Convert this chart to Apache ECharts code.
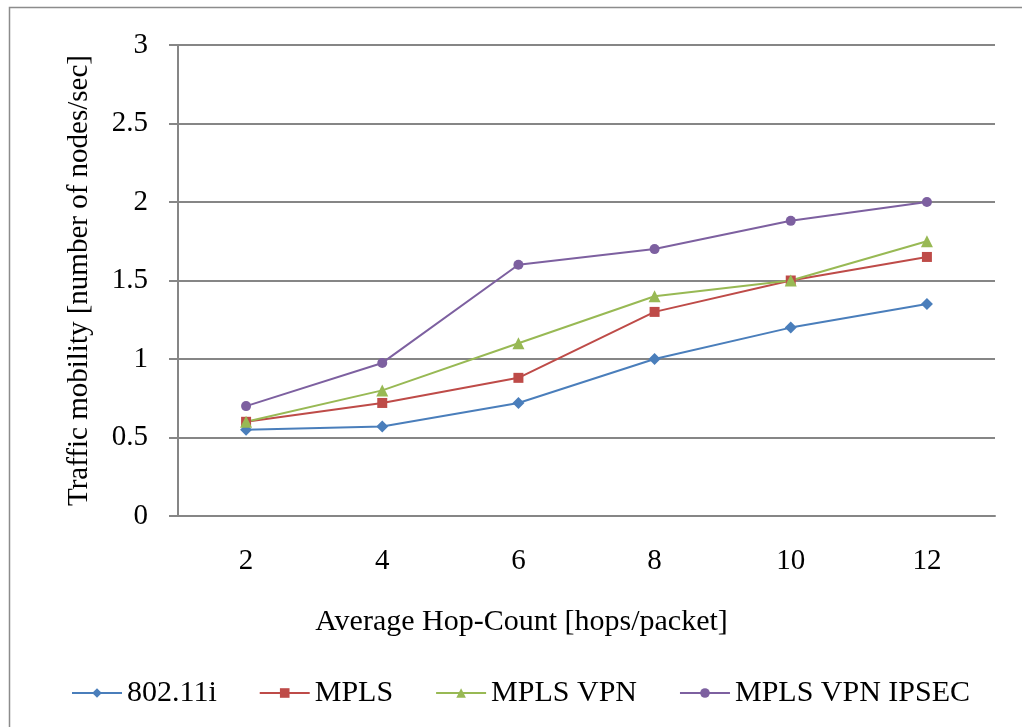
<!DOCTYPE html>
<html>
<head>
<meta charset="utf-8">
<script src="https://cdn.jsdelivr.net/npm/echarts@6/dist/echarts.min.js"></script>
<style>
  html, body { margin: 0; padding: 0; background: #fff; }
  #chart { width: 1022px; height: 727px; }
</style>
</head>
<body>
<div id="chart"></div>
<script>
const hopCounts = ['2', '4', '6', '8', '10', '12'];
const wifi = [0.55, 0.57, 0.72, 1.0, 1.2, 1.35];
const mpls = [0.6, 0.72, 0.88, 1.3, 1.5, 1.65];
const mplsVpn = [0.6, 0.8, 1.1, 1.4, 1.5, 1.75];
const mplsVpnIpsec = [0.7, 0.975, 1.6, 1.7, 1.88, 2.0];

const font = 'Liberation Serif';
const fs = 29;
const chart = echarts.init(document.getElementById('chart'));

function line(name, data, color, symbol, size) {
    return {
        name: name,
        type: 'line',
        data: data,
        symbol: symbol,
        symbolSize: size,
        lineStyle: { color: color, width: 2 },
        itemStyle: { color: color },
        animation: false
    };
}

chart.setOption({
    textStyle: { fontFamily: font },
    graphic: [{
        type: 'rect',
        shape: { x: 9.5, y: 7.5, width: 1100, height: 800 },
        style: { fill: null, stroke: '#8c8c8c', lineWidth: 1.5 }
    }],
    grid: { left: 178, right: 27, top: 45, bottom: 211 },
    legend: {
        bottom: 14,
        left: 66,
        itemWidth: 50,
        itemHeight: 12,
        itemGap: 42,
        textStyle: { fontFamily: font, fontSize: 30, color: '#000' },
        data: ['802.11i', 'MPLS', 'MPLS VPN', 'MPLS VPN IPSEC']
    },
    xAxis: {
        type: 'category',
        data: hopCounts,
        name: 'Average Hop-Count [hops/packet]',
        nameLocation: 'middle',
        nameGap: 91,
        nameTextStyle: { fontFamily: font, fontSize: 30, color: '#000', padding: [0, 130, 0, 0] },
        axisLine: { lineStyle: { color: '#868686', width: 2 } },
        axisTick: { show: false },
        axisLabel: { fontFamily: font, fontSize: fs, color: '#000', margin: 31 }
    },
    yAxis: {
        type: 'value',
        min: 0,
        max: 3,
        interval: 0.5,
        name: 'Traffic mobility [number of nodes/sec]',
        nameLocation: 'middle',
        nameGap: 84,
        nameTextStyle: { fontFamily: font, fontSize: fs, color: '#000' },
        axisLine: { show: true, lineStyle: { color: '#868686', width: 2 } },
        axisTick: { show: true, length: 9, lineStyle: { color: '#868686', width: 2 } },
        axisLabel: { fontFamily: font, fontSize: fs, color: '#000', margin: 30 },
        splitLine: { lineStyle: { color: '#868686', width: 2 } }
    },
    series: [
        line('802.11i', wifi, '#4a7ebb', 'diamond', 12),
        line('MPLS', mpls, '#be4b48', 'rect', 10),
        line('MPLS VPN', mplsVpn, '#98b954', 'triangle', 12),
        line('MPLS VPN IPSEC', mplsVpnIpsec, '#7d60a0', 'circle', 10)
    ]
});
</script>
</body>
</html>
